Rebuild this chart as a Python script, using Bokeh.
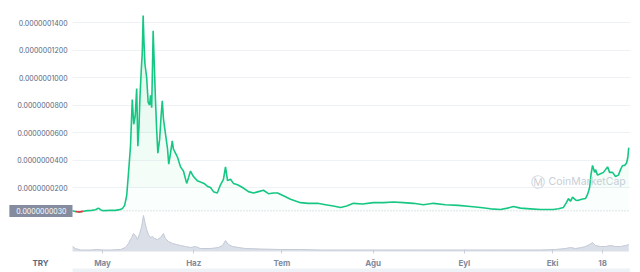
import numpy as np
from bokeh.plotting import figure
from bokeh.models import Range1d, FixedTicker, PrintfTickFormatter, Span, Label, BoxAnnotation
from bokeh.embed import file_html
from bokeh.resources import INLINE

# ---- data (days since 2021-05-01) ----
price_day = [-10.2, -9.2, -7.8, -6.5, -5.1, -3.7, -2.4, -1.4, -0.3, 1.0, 2.7, 4.4, 5.8, 6.8, 7.5,
             8.2, 8.8, 9.5, 10.1, 10.6, 11.1, 11.6, 12.0, 12.4, 12.7, 13.2, 13.5, 13.8, 14.1, 14.4,
             15.0, 15.5, 16.0, 16.3, 16.7, 17.0, 17.2, 17.5, 18.0, 18.4, 18.8, 19.4, 19.9, 20.3,
             20.7, 21.4, 22.1, 22.5, 23.1, 23.7, 24.1, 24.8, 25.5, 26.5, 27.5, 28.6, 29.2, 29.9,
             30.9, 32.2, 33.3, 34.5, 35.6, 36.7, 37.7, 39.0, 40.1, 41.1, 41.8, 42.5, 43.5, 44.5,
             45.9, 47.6, 49.6, 51.3, 53.0, 54.7, 56.4, 58.1, 59.5, 61.5, 63.9, 67.3, 70.0, 73.1,
             75.8, 78.5, 80.9, 83.0, 85.3, 88.4, 92.1, 95.5, 98.9, 102.3, 105.7, 109.1, 112.5,
             116.6, 121.0, 125.1, 128.5, 131.9, 135.3, 137.7, 139.7, 142.1, 145.5, 148.9, 153.3,
             155.0, 156.7, 157.7, 158.4, 159.1, 159.8, 160.8, 161.5, 162.9, 164.2, 164.9, 165.6,
             166.1, 166.6, 167.3, 167.6, 168.3, 169.3, 170.3, 171.0, 171.7, 172.4, 173.4, 174.4,
             175.4, 176.1, 176.8, 177.5, 178.2, 178.6, 178.9]
# price in units of 1e-9 TRY
price_nano = [3.0, 2.6, 2.3, 2.7, 3.2, 3.4, 3.8, 5.0, 3.4, 3.2, 3.5, 3.4, 3.9, 4.8, 7.0,
              14, 30, 50, 84, 66, 72, 92, 50, 65, 85, 107, 118, 145, 125, 110,
              100, 82, 80, 87, 78, 110, 134, 115, 83, 62, 45, 55, 72, 83,
              70, 59, 48, 37, 45, 54, 48, 45, 42, 35, 32, 23, 27, 32,
              28, 25, 24, 23, 21, 20, 17, 16, 22, 26, 35, 25, 26, 23,
              22, 20, 17, 16, 17, 18, 15.5, 16, 16, 14, 11.5, 9, 8.5, 8.5,
              7.5, 6.5, 5.5, 6.5, 8.5, 8, 9, 9, 9.5, 9, 8.5, 7.5, 8.5,
              7.5, 7, 6.2, 5.5, 4.5, 4, 5, 6.2, 5, 4.5, 4, 4,
              4.5, 5.5, 9, 12, 10, 13, 11, 10.5, 11.5, 12, 15, 20,
              30, 36, 31, 33, 29, 30, 31, 33, 35, 31, 31, 28,
              29, 33, 36, 36, 38, 42, 49]
start_price_nano = 3.0

vol_day = [-10.2, -9.2, -7.5, -4.1, -1.7, 0.0, 2.7, 6.1, 7.8, 8.8, 9.9, 10.5, 11.2, 11.9, 12.6,
           13.3, 13.9, 14.5, 15.0, 15.6, 16.3, 17.0, 17.7, 18.7, 19.7, 20.7, 21.4, 22.4, 23.8,
           25.2, 26.5, 28.2, 29.9, 31.6, 33.3, 36.7, 39.4, 40.8, 41.8, 42.8, 44.2, 46.2, 48.6,
           53.7, 60.5, 67.3, 74.1, 80.9, 87.7, 94.5, 101.3, 108.1, 114.9, 121.7, 128.5, 135.3,
           142.1, 148.9, 154.0, 157.4, 159.1, 160.8, 162.9, 164.2, 165.6, 166.6, 167.6, 169.3,
           171.0, 172.7, 174.4, 176.1, 177.9, 178.9]
# volume, relative units
vol_rel = [5, 3, 1.5, 1.5, 2, 1.5, 1.5, 2, 4, 8, 14, 18, 16, 12, 18,
           25, 36, 28, 22, 17, 14, 15, 13, 12, 14, 18, 13, 10, 8,
           7, 6, 5, 4, 5, 3, 3, 4, 6, 11, 7, 5, 4, 3,
           2.5, 2, 2, 1.5, 1.5, 1.5, 1.5, 1.5, 1.5, 1.5, 1.5, 1.5, 1.5,
           1.5, 1.5, 2, 3, 4, 3, 4, 5, 7, 9, 6, 5,
           5, 6, 5, 5, 6, 7]

y_ticks_nano = [20, 40, 60, 80, 100, 120, 140]
x_tick_days = [0, 31, 61, 92, 123, 153, 170]
x_tick_labels = ["May", "Haz", "Tem", "Ağu", "Eyl", "Eki", "18"]
currency = "TRY"

FONT = "Inter"
GREEN = "#16c784"
RED = "#ea3943"
GREY = "#58667e"

x = np.array(price_day)
y = np.array(price_nano) * 1e-9
start = start_price_nano * 1e-9
x_first = price_day[0]

# frame covers the whole canvas (except a 10px right margin); axes are pinned inside it
p = figure(width=640, height=272, output_backend="svg", toolbar_location=None,
           x_range=Range1d(-34.7, 179.5), y_range=Range1d(-41.8e-9, 156e-9),
           min_border_left=0, min_border_right=10, min_border_top=0, min_border_bottom=0)
p.outline_line_color = None
p.background_fill_color = "white"
p.border_fill_color = "white"

p.extra_y_ranges = {"vol": Range1d(-21, 251)}

p.xgrid.grid_line_color = None
p.ygrid.grid_line_color = "#eff2f5"
p.ygrid.ticker = FixedTicker(ticks=[t * 1e-9 for t in y_ticks_nano])

span = Span(location=start, dimension="width", line_color="#c4cad6", line_dash="1 2",
            line_width=1, level="underlay")
p.add_layout(span)
# blank the axis-label area left of the plotting region
p.add_layout(BoxAnnotation(right=x_first, fill_color="white", fill_alpha=1.0,
                           line_color=None, level="underlay"))
# navigator strip at the bottom
p.add_layout(BoxAnnotation(left=x_first, top=-17, y_range_name="vol", fill_color="#eef1f6",
                           fill_alpha=1.0, line_color=None, level="underlay"))

# volume
p.varea(x=vol_day, y1=0, y2=vol_rel, y_range_name="vol", fill_color="#d6dbe5", fill_alpha=0.9)
p.line(x=vol_day, y=vol_rel, y_range_name="vol", line_color="#c3c9d5", line_width=1)

# gradient-like fill under price
levels = [0, 20, 40, 60, 80, 100, 120]
for L in levels:
    lv = max(L * 1e-9, start)
    p.varea(x=x, y1=lv, y2=np.maximum(y, lv), fill_color=GREEN, fill_alpha=0.025)

p.line(x=x, y=y, line_color=GREEN, line_width=1.6)
red = np.where(y < start, y, np.nan)
p.line(x=x, y=red, line_color=RED, line_width=1.6)

# y axis pinned at the start of the data
p.yaxis.fixed_location = x_first
p.yaxis.ticker = FixedTicker(ticks=[t * 1e-9 for t in y_ticks_nano])
p.yaxis.formatter = PrintfTickFormatter(format="%.10f")
p.yaxis.axis_line_color = None
p.yaxis.major_tick_line_color = None
p.yaxis.major_tick_in = 0
p.yaxis.major_tick_out = 0
p.yaxis.minor_tick_line_color = None
p.yaxis.major_label_text_font = FONT
p.yaxis.major_label_text_font_size = "7px"
p.yaxis.major_label_text_color = GREY
p.yaxis.major_label_standoff = 5

# x axis pinned at the volume baseline
p.xaxis.fixed_location = -27.3e-9
p.xaxis.ticker = FixedTicker(ticks=x_tick_days)
p.xaxis.major_label_overrides = {d: lab for d, lab in zip(x_tick_days, x_tick_labels)}
p.xaxis.axis_line_color = None
p.xaxis.major_tick_line_color = "#c9cfda"
p.xaxis.major_tick_in = 3
p.xaxis.major_tick_out = 1
p.xaxis.minor_tick_line_color = None
p.xaxis.major_label_text_font = FONT
p.xaxis.major_label_text_font_size = "8px"
p.xaxis.major_label_text_font_style = "bold"
p.xaxis.major_label_text_color = "#808a9d"
p.xaxis.major_label_standoff = 4

# start price tag
p.add_layout(Label(x=72, y=start, x_units="screen", y_units="data",
                   text="%.10f" % start, text_font=FONT, text_font_size="7px",
                   text_color="white", text_align="right", text_baseline="middle",
                   background_fill_color="#858ca0",
                   padding=dict(left=7, right=6, top=3, bottom=3)))

# currency label
p.add_layout(Label(x=40, y=10, x_units="screen", y_units="screen", text=currency,
                   text_font=FONT, text_font_size="8px", text_font_style="bold",
                   text_color=GREY, text_align="center", text_baseline="middle"))

# watermark
p.add_layout(Label(x=548, y=91, x_units="screen", y_units="screen", text="CoinMarketCap",
                   text_font=FONT, text_font_size="10.5px",
                   text_color="#c8ced8", text_align="left", text_baseline="middle"))
p.add_layout(Label(x=537, y=91, x_units="screen", y_units="screen", text="Ⓜ",
                   text_font="DejaVu Sans", text_font_size="14px",
                   text_color="#c8ced8", text_align="center", text_baseline="middle"))

open("out.html", "w").write(file_html(p, INLINE))
